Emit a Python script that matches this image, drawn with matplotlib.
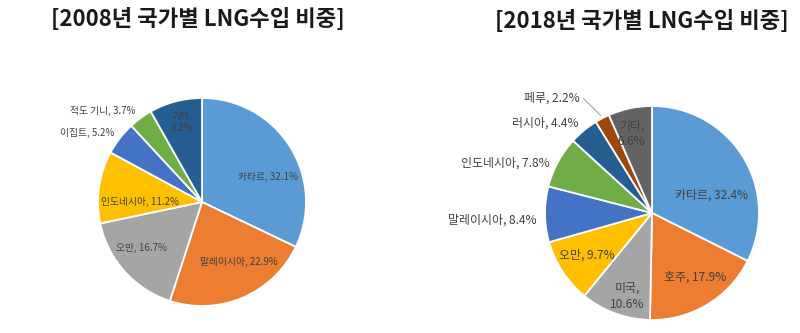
import matplotlib
matplotlib.use("Agg")
import matplotlib.pyplot as plt
import numpy as np

plt.rcParams['font.family'] = ['Noto Sans CJK KR', 'DejaVu Sans']

W, H = 800, 333

# --- data ---
title_2008 = "[2008년 국가별 LNG수입 비중]"
names_2008 = ["카타르", "말레이시아", "오만", "인도네시아", "이집트", "적도 기니", "기타"]
share_2008 = [32.1, 22.9, 16.7, 11.2, 5.2, 3.7, 8.2]
colors_2008 = ["#5B9BD5", "#ED7D31", "#A5A5A5", "#FFC000", "#4472C4", "#70AD47", "#255E91"]

title_2018 = "[2018년 국가별 LNG수입 비중]"
names_2018 = ["카타르", "호주", "미국", "오만", "말레이시아", "인도네시아", "러시아", "페루", "기타"]
share_2018 = [32.4, 17.9, 10.6, 9.7, 8.4, 7.8, 4.4, 2.2, 6.6]
colors_2018 = ["#5B9BD5", "#ED7D31", "#A5A5A5", "#FFC000", "#4472C4", "#70AD47",
               "#255E91", "#9E480E", "#636363"]

# label layout (pie units) : x, y, two-line?
pos_2008 = [(0.63, 0.24, False), (0.35, -0.58, False),
            (-0.58, -0.44, False), (-0.60, 0.0, False),
            (-1.10, 0.66, False), (-0.95, 0.875, False),
            (-0.19, 0.77, True)]
pos_2018 = [(0.56, 0.17, False), (0.40, -0.60, False),
            (-0.23, -0.78, True), (-0.61, -0.39, False),
            (-1.49, -0.065, False), (-1.37, 0.47, False),
            (-1.00, 0.84, False), (-0.94, 1.07, False),
            (-0.19, 0.74, True)]

fig = plt.figure(figsize=(W / 100, H / 100), dpi=100)
fig.patch.set_facecolor("white")


def make_ax(cx, cy, r, half=1.9):
    ax = fig.add_axes([(cx - half * r) / W, 1 - (cy + half * r) / H,
                       2 * half * r / W, 2 * half * r / H])
    ax.axis("off")
    return ax


def draw(ax, names, vals, cols, pos, fs):
    wedges, _ = ax.pie(vals, colors=cols, startangle=90, counterclock=False,
                       wedgeprops=dict(edgecolor="white", linewidth=1.3))
    ax.set_xlim(-1.9, 1.9)
    ax.set_ylim(-1.9, 1.9)
    for name, v, (x, y, two) in zip(names, vals, pos):
        sep = ",\n" if two else ", "
        ax.text(x, y, f"{name}{sep}{v}%", ha="center", va="center", fontsize=fs,
                color="#404040", linespacing=1.3)
    return wedges


ax1 = make_ax(202, 202, 104)
draw(ax1, names_2008, share_2008, colors_2008, pos_2008, 7)
fig.text(198 / W, 1 - 19 / H, title_2008, ha="center", va="center",
         fontsize=16, fontweight="bold", color="#1a1a1a")

ax2 = make_ax(652, 213, 107)
w2 = draw(ax2, names_2018, share_2018, colors_2018, pos_2018, 8.6)
fig.text(642 / W, 1 - 21 / H, title_2018, ha="center", va="center",
         fontsize=16, fontweight="bold", color="#1a1a1a")

# leader line for 페루
peru = w2[7]
ang = np.deg2rad((peru.theta1 + peru.theta2) / 2)
ax2.plot([-0.64, 1.03 * np.cos(ang)], [1.07, 1.03 * np.sin(ang)],
         color="#A6A6A6", lw=0.8)

fig.savefig("out.png", dpi=100, facecolor="white")
